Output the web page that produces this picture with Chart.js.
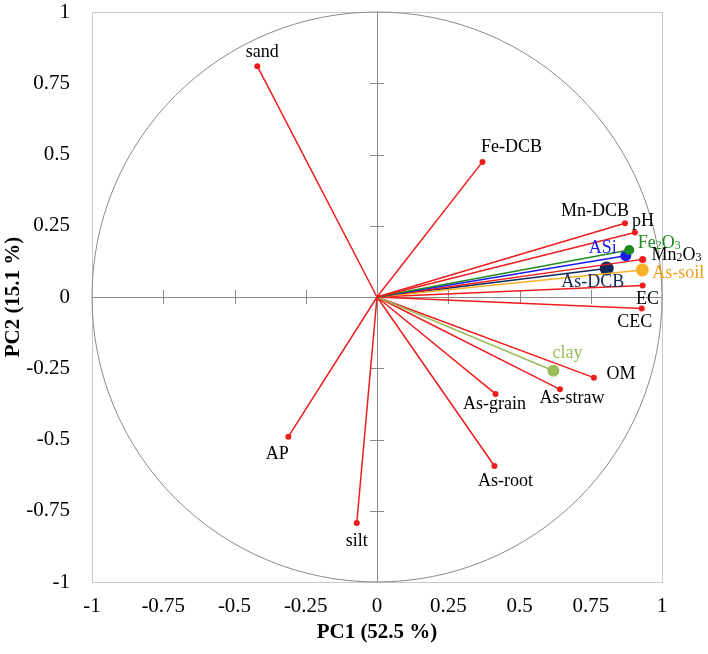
<!DOCTYPE html>
<html><head><meta charset="utf-8">
<script src="https://cdn.jsdelivr.net/npm/chart.js@4.4.1/dist/chart.umd.min.js"></script>
<style>html,body{margin:0;padding:0;background:#fff}#wrap{width:708px;height:654px}</style>
</head><body><div id="wrap"><canvas id="c" width="708" height="654"></canvas></div>
<script>
// ---- data ----
const variables = ['sand','Fe-DCB','Mn-DCB','pH','Fe\u2082O\u2083','ASi','Mn\u2082O\u2083','As-soil','As-DCB','EC','CEC','clay','OM','As-straw','As-grain','As-root','AP','silt'];
const pc1 = [-0.42, 0.37, 0.87, 0.905, 0.885, 0.873, 0.932, 0.931, 0.806, 0.932, 0.929, 0.619, 0.761, 0.642, 0.416, 0.412, -0.311, -0.071];
const pc2 = [0.81, 0.474, 0.259, 0.226, 0.165, 0.145, 0.132, 0.095, 0.10, 0.04, -0.04, -0.259, -0.283, -0.324, -0.34, -0.593, -0.49, -0.793];
const axisTicks = [-1, -0.75, -0.5, -0.25, 0, 0.25, 0.5, 0.75, 1];
const xTitle = 'PC1 (52.5 %)';
const yTitle = 'PC2 (15.1 %)';

// ---- styles ----
const RED = '#ee1c1c';
const lineColors = [RED, RED, RED, RED, '#1f8a1f', '#1a1aee', RED, '#f8b12a', '#12285a', RED, RED, '#9bbb59', RED, RED, RED, RED, RED, RED];
const labelColors = ['#000','#000','#000','#000','#1f8a1f','#1a1aee','#000','#f0a020','#12285a','#000','#000','#9bbb59','#000','#000','#000','#000','#000','#000'];
const pointRadii = [3, 3, 3, 3, 5, 5.5, 3.5, 6.5, 7, 3, 3, 6, 3, 3, 3, 3, 3, 3];
const labelOffsets = [[5,-15],[29,-16],[-30,-13],[8,-13],[30,-8],[-23,-9],[34,-5],[36,2],[-14,13],[5,12],[-7,13],[14,-19],[27,-5],[12,8],[-1,9],[11,14],[-11,16],[0,17]];

const FONT = "'Liberation Serif', 'Times New Roman', serif";
Chart.defaults.font.family = FONT;
Chart.defaults.color = '#000';

const SUBS = {'\u2082': '2', '\u2083': '3'};
function drawRich(ctx, text, cx, cy, size) {
  const segs = [];
  for (const ch of text) {
    const sub = SUBS[ch] !== undefined;
    const c = sub ? SUBS[ch] : ch;
    if (segs.length && segs[segs.length-1].sub === sub) segs[segs.length-1].t += c;
    else segs.push({t: c, sub});
  }
  const small = Math.round(size * 0.68);
  let total = 0;
  segs.forEach(s => { ctx.font = (s.sub ? small : size) + 'px ' + FONT; s.w = ctx.measureText(s.t).width; total += s.w; });
  let x = cx - total / 2;
  ctx.textAlign = 'left';
  ctx.textBaseline = 'alphabetic';
  const base = cy + size * 0.33;
  segs.forEach(s => {
    ctx.font = (s.sub ? small : size) + 'px ' + FONT;
    ctx.fillText(s.t, x, s.sub ? base + size * 0.06 : base);
    x += s.w;
  });
}

const decor = {
  id: 'decor',
  beforeDatasetsDraw(chart) {
    const {ctx, chartArea: a, scales: {x, y}} = chart;
    ctx.save();
    ctx.strokeStyle = '#c8c8c8'; ctx.lineWidth = 1;
    ctx.strokeRect(Math.round(a.left)+0.5, Math.round(a.top)+0.5, Math.round(a.right-a.left), Math.round(a.bottom-a.top));
    const cx = x.getPixelForValue(0), cy = y.getPixelForValue(0);
    const rx = x.getPixelForValue(1) - cx, ry = cy - y.getPixelForValue(1);
    ctx.strokeStyle = '#8a8a8a';
    ctx.beginPath(); ctx.ellipse(cx, cy, rx, ry, 0, 0, Math.PI*2); ctx.stroke();
    ctx.beginPath();
    ctx.moveTo(a.left, Math.round(cy)+0.5); ctx.lineTo(a.right, Math.round(cy)+0.5);
    ctx.moveTo(Math.round(cx)+0.5, a.top); ctx.lineTo(Math.round(cx)+0.5, a.bottom);
    axisTicks.forEach(v => {
      if (v === 0 || Math.abs(v) === 1) return;
      const px = Math.round(x.getPixelForValue(v))+0.5;
      ctx.moveTo(px, cy-7); ctx.lineTo(px, cy+7);
      const py = Math.round(y.getPixelForValue(v))+0.5;
      ctx.moveTo(cx-7, py); ctx.lineTo(cx+7, py);
    });
    ctx.stroke();
    ctx.restore();
  },
  afterDatasetsDraw(chart) {
    const {ctx, scales: {x, y}} = chart;
    ctx.save();
    variables.forEach((name, i) => {
      const px = x.getPixelForValue(pc1[i]) + labelOffsets[i][0];
      const py = y.getPixelForValue(pc2[i]) + labelOffsets[i][1];
      ctx.fillStyle = labelColors[i];
      drawRich(ctx, name, px, py, 18);
    });
    ctx.restore();
  }
};

const datasets = variables.map((name, i) => ({
  label: name,
  data: [{x: 0, y: 0}, {x: pc1[i], y: pc2[i]}],
  showLine: true,
  borderColor: lineColors[i],
  backgroundColor: lineColors[i],
  borderWidth: 1.5,
  pointRadius: [0, pointRadii[i]],
  pointBorderWidth: 0,
  pointHoverRadius: [0, pointRadii[i]]
}));

const tickCfg = (pad) => ({
  font: {size: 21, family: FONT},
  color: '#000',
  padding: pad,
  autoSkip: false,
  maxRotation: 0,
  callback: v => String(v)
});

new Chart(document.getElementById('c'), {
  type: 'scatter',
  data: {datasets},
  options: {
    responsive: false,
    animation: false,
    devicePixelRatio: 1,
    layout: {padding: {left: 0, top: 12, right: 46, bottom: 0}},
    plugins: {legend: {display: false}, tooltip: {enabled: false}},
    scales: {
      x: {
        type: 'linear', min: -1, max: 1,
        afterBuildTicks: s => { s.ticks = axisTicks.map(v => ({value: v})); },
        afterFit: s => { s.height = 72; s.paddingLeft = 0; s.paddingRight = 0; },
        grid: {display: false, drawTicks: false},
        border: {display: false},
        ticks: tickCfg(12),
        title: {display: true, text: xTitle, font: {size: 21, weight: 'bold', family: FONT}, color: '#000', padding: {top: 0, bottom: 9}}
      },
      y: {
        type: 'linear', min: -1, max: 1,
        afterBuildTicks: s => { s.ticks = axisTicks.map(v => ({value: v})); },
        afterFit: s => { s.width = 92; s.paddingTop = 0; s.paddingBottom = 0; },
        grid: {display: false, drawTicks: false},
        border: {display: false},
        ticks: tickCfg(22),
        title: {display: true, text: yTitle, font: {size: 21, weight: 'bold', family: FONT}, color: '#000', padding: {top: 1, bottom: 0}}
      }
    }
  },
  plugins: [decor]
});
</script></body></html>
